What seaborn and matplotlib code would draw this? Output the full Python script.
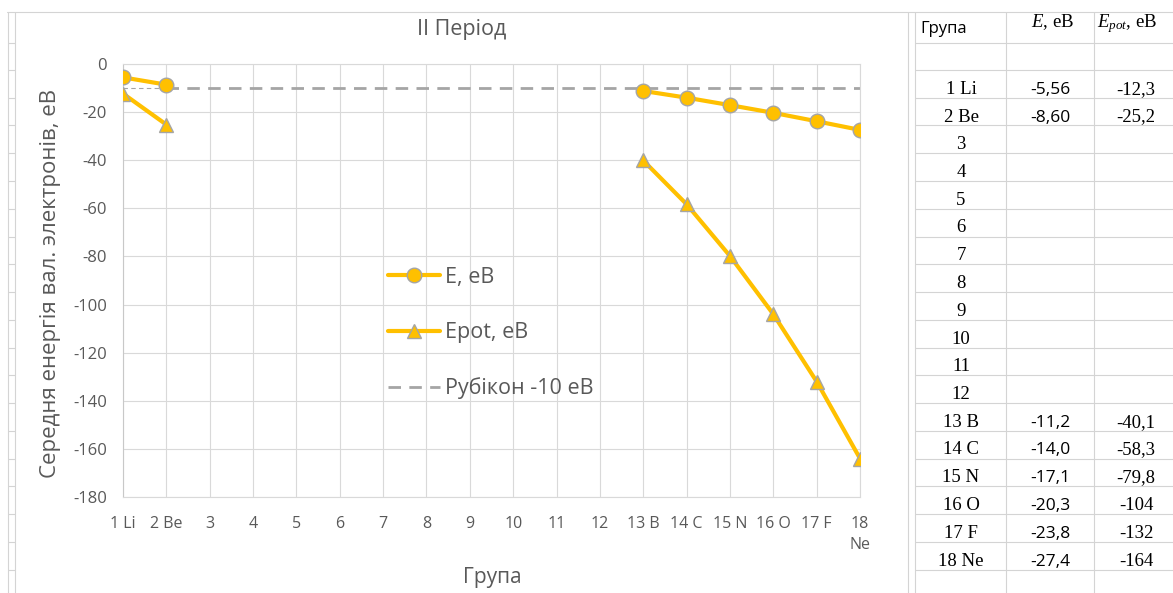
import numpy as np
import pandas as pd
import matplotlib
matplotlib.use("Agg")
import matplotlib.pyplot as plt
import seaborn as sns
from matplotlib.lines import Line2D

# ---------------- data ----------------
groups = ["1 Li", "2 Be", "3", "4", "5", "6", "7", "8", "9", "10", "11", "12",
          "13 B", "14 C", "15 N", "16 O", "17 F", "18 Ne"]
tick_labels = ["1 Li", "2 Be", "3", "4", "5", "6", "7", "8", "9", "10", "11", "12",
               "13 B", "14 C", "15 N", "16 O", "17 F", "18\nNe"]
nan = np.nan
E_values = [-5.56, -8.60, nan, nan, nan, nan, nan, nan, nan, nan, nan, nan,
            -11.2, -14.0, -17.1, -20.3, -23.8, -27.4]
Epot_values = [-12.3, -25.2, nan, nan, nan, nan, nan, nan, nan, nan, nan, nan,
               -40.1, -58.3, -79.8, -104, -132, -164]
rubicon_values = [-10, -10, -10, -10, -10, -10, -10, -10, -10, -10, -10, -10,
                  -10, -10, -10, -10, -10, -10]

title = "II Період"
ylabel = "Середня енергія вал. электронів, еВ"
xlabel = "Група"
legend_labels = ["E, eB", "Epot, eB", "Рубікон -10 eB"]

# ---------------- style ----------------
sns.set_style("white")
plt.rcParams["font.family"] = ["Open Sans", "DejaVu Sans"]
plt.rcParams["axes.unicode_minus"] = False
plt.rcParams["mathtext.fontset"] = "custom"
plt.rcParams["mathtext.it"] = "Liberation Serif:italic"
plt.rcParams["mathtext.rm"] = "Liberation Serif"

GOLD = "#FFC000"
EDGE = "#A5A5A5"
TXT = "#595959"
GRID = "#D9D9D9"
CELL = "#D4D4D4"

W, H = 1173, 593
fig = plt.figure(figsize=(W / 100, H / 100), dpi=100)


def fx(x):
    return x / W


def fy(y):
    return 1 - y / H


ax = fig.add_axes([fx(123), fy(497), fx(860) - fx(123), fy(64) - fy(497)])

pos = np.arange(1, len(groups) + 1)
df = pd.DataFrame({"pos": pos, "E": E_values, "Epot": Epot_values,
                   "rub": rubicon_values})
df["seg"] = df["E"].isna().cumsum()

dfE = df.dropna(subset=["E"])
dfP = df.dropna(subset=["Epot"])

# threshold line (thin first segment, thick afterwards as in the reference)
sns.lineplot(data=df.iloc[:2], x="pos", y="rub", ax=ax, color=EDGE, lw=0.8,
             linestyle=(0, (4, 3)), zorder=2, legend=False)
sns.lineplot(data=df.iloc[1:], x="pos", y="rub", ax=ax, color=EDGE, lw=2.0,
             linestyle=(0, (4.5, 3)), zorder=2, legend=False)

mk = dict(markersize=10.5, markerfacecolor=GOLD, markeredgecolor=EDGE,
          markeredgewidth=1.0)
sns.lineplot(data=dfE, x="pos", y="E", units="seg", estimator=None, ax=ax,
             color=GOLD, lw=3, marker="o", zorder=3, legend=False, **mk)
sns.lineplot(data=dfP, x="pos", y="Epot", units="seg", estimator=None, ax=ax,
             color=GOLD, lw=3, marker="^", zorder=3, legend=False, **mk)

ax.set_xlim(1, 18)
ax.set_ylim(-180, 0)
ax.set_xticks(pos)
ax.set_xticklabels(tick_labels)
ax.set_yticks(np.arange(-180, 1, 20))
ax.grid(True, color=GRID, lw=0.8)
ax.set_axisbelow(True)
for s in ax.spines.values():
    s.set_color(GRID)
    s.set_linewidth(0.8)
ax.spines["left"].set_color("#C8C8C8")
ax.tick_params(axis="x", length=0, pad=14, labelsize=11.5, labelcolor=TXT)
ax.tick_params(axis="y", length=0, pad=11.5, labelsize=12, labelcolor=TXT)
for lab in ax.get_xticklabels():
    lab.set_linespacing(1.4)
ax.set_xlabel("")
ax.set_ylabel("")

fig.text(fx(462), fy(30), title, ha="center", va="center", size=15.5, color=TXT)
fig.text(fx(51), fy(283), ylabel, ha="center", va="center", rotation=90,
         size=16, color=TXT)
fig.text(fx(492), fy(578), xlabel, ha="center", va="center", size=15, color=TXT)

handles = [
    Line2D([], [], color=GOLD, lw=3, marker="o", **mk),
    Line2D([], [], color=GOLD, lw=3, marker="^", **mk),
    Line2D([], [], color=EDGE, lw=2.0, linestyle=(0, (4.5, 3))),
]
ax.legend(handles, legend_labels, loc="center left",
          bbox_to_anchor=(fx(388), fy(333)), bbox_transform=fig.transFigure,
          frameon=False, fontsize=15.5, labelcolor=TXT, borderpad=0,
          borderaxespad=0, handlelength=2.4, handletextpad=0.25,
          labelspacing=1.6)

# ---------------- spreadsheet grid ----------------
def hline(y, x0, x1):
    fig.add_artist(Line2D([fx(x0), fx(x1)], [fy(y), fy(y)], color=CELL, lw=0.8))


def vline(x, y0, y1):
    fig.add_artist(Line2D([fx(x), fx(x)], [fy(y0), fy(y1)], color=CELL, lw=0.8))


row_h = 27.75
row_lines = [42.7] + [70 + row_h * k for k in range(19)]
hline(12, 7, W)
for x in (7.5, 15, 908, 915, 1006, 1094):
    vline(x, 12, H)
for y in row_lines:
    hline(y, 7.5, 15)
    hline(y, 915, W)


def fmt3(v):
    d = max(0, 2 - int(np.floor(np.log10(abs(v)))))
    return f"{v:.{d}f}".replace(".", ",")


SERIF = 13.5
# header
fig.text(fx(920), fy(33), xlabel, ha="left", va="baseline", size=12, color="black")
fig.text(fx(1052), fy(27), "$E$, eB", ha="center", va="baseline", size=SERIF,
         family="Liberation Serif", color="black")
fig.text(fx(1097), fy(27), "$E_{pot}$, eB", ha="left", va="baseline", size=SERIF,
         family="Liberation Serif", color="black")

for i, g in enumerate(groups):
    base = 70 + row_h * (i + 1) - 4
    fig.text(fx(961), fy(base), g, ha="center", va="baseline", size=SERIF,
             family="Liberation Serif", color="black")
    if not np.isnan(E_values[i]):
        fig.text(fx(1050), fy(base), fmt3(E_values[i]), ha="center",
                 va="baseline", size=12.5, color="black")
    if not np.isnan(Epot_values[i]):
        fig.text(fx(1136), fy(base), fmt3(Epot_values[i]), ha="center",
                 va="baseline", size=SERIF, family="Liberation Serif",
                 color="black")

fig.savefig("out.png", dpi=100)
